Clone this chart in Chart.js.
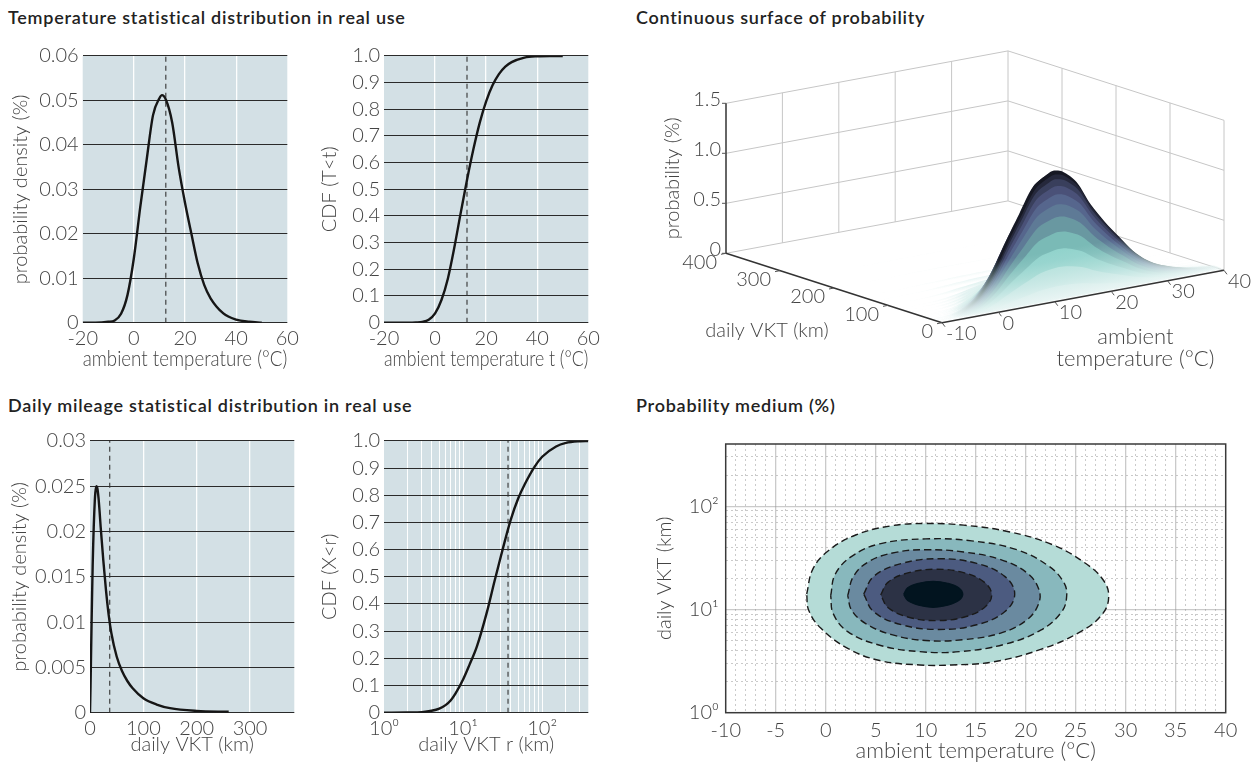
<!DOCTYPE html>
<html>
<head>
<meta charset="utf-8">
<script src="https://cdn.jsdelivr.net/npm/chart.js@4.4.1/dist/chart.umd.min.js"></script>
<style>
  body { margin: 0; width: 1260px; height: 764px; position: relative; overflow: hidden; background: #fff;
         font-family: Lato, "Open Sans", sans-serif; }
  canvas { position: absolute; }
  .ttl { position: absolute; font-size: 18px; font-weight: 600; letter-spacing: 0.75px; color: #222; white-space: nowrap; }
</style>
</head>
<body>
<div class="ttl" style="left:8px;top:6px">Temperature statistical distribution in real use</div>
<div class="ttl" style="left:636px;top:6px">Continuous surface of probability</div>
<div class="ttl" style="left:8px;top:394px">Daily mileage statistical distribution in real use</div>
<div class="ttl" style="left:636px;top:394px">Probability medium (%)</div>

<canvas id="c1" width="305" height="340" style="left:0;top:40px"></canvas>
<canvas id="c2" width="320" height="340" style="left:305px;top:40px"></canvas>
<canvas id="c3" width="305" height="339" style="left:0;top:425px"></canvas>
<canvas id="c4" width="320" height="339" style="left:305px;top:425px"></canvas>
<canvas id="c5" width="630" height="340" style="left:630px;top:40px"></canvas>
<canvas id="c6" width="630" height="339" style="left:630px;top:425px"></canvas>

<script>
// values
const tempX   = [-20, -15, -10, -7.5, -5, -2.5, 0, 2.5, 5, 7.5, 10, 11, 12.5, 15, 17.5, 20, 22.5, 25, 27.5, 30, 35, 40, 45, 50];
const tempPdf = [0, 0, 0.0002, 0.0005, 0.002, 0.0062, 0.0145, 0.026, 0.0366, 0.0467, 0.0505, 0.0512, 0.0502, 0.045, 0.035, 0.027, 0.02, 0.0133, 0.0085, 0.0055, 0.0021, 0.0007, 0.0002, 0];
const tempCdf = [0, 0, 0, 0.001, 0.003, 0.011, 0.035, 0.085, 0.165, 0.28, 0.41, 0.46, 0.535, 0.65, 0.75, 0.83, 0.89, 0.932, 0.96, 0.977, 0.994, 0.999, 1, 1];
const tempMean = 12.5;

const vktX   = [0, 1, 2, 3, 4, 5, 6, 7, 8, 9, 10, 12, 14, 16, 18, 20, 25, 30, 35, 40, 50, 60, 70, 80, 100, 125, 150, 200, 260];
const vktPdf = [0, 0.0029, 0.0065, 0.01, 0.0133, 0.0162, 0.0186, 0.0205, 0.0221, 0.0234, 0.0243, 0.025, 0.0247, 0.0237, 0.0222, 0.0205,
                0.0168, 0.0135, 0.0108, 0.0088, 0.0062, 0.0046, 0.0035, 0.0027, 0.0016, 0.0009, 0.0005, 0.0002, 0.0001];
const vktCdfX = [1, 2, 3, 4, 5, 6, 7, 8, 10, 12, 15, 20, 25, 30, 40, 50, 60, 80, 100, 150, 200, 300, 383];
const vktCdf  = [0, 0.0005, 0.002, 0.007, 0.015, 0.028, 0.046, 0.07, 0.122, 0.175, 0.245, 0.37, 0.485, 0.575, 0.71, 0.79, 0.84, 0.905, 0.942, 0.98, 0.993, 0.999, 1];
const vktMean = 37;

// tick values / labels
const tempTicks    = [-20, 0, 20, 40, 60];
const tempPdfTicks = [0, 0.01, 0.02, 0.03, 0.04, 0.05, 0.06];
const cdfTicks     = [0, 0.1, 0.2, 0.3, 0.4, 0.5, 0.6, 0.7, 0.8, 0.9, 1.0];
const vktTicks     = [0, 100, 200, 300];
const vktPdfTicks  = [0, 0.005, 0.01, 0.015, 0.02, 0.025, 0.03];
const vktLogTicks  = [1, 2, 3, 4, 5, 6, 7, 8, 9, 10, 20, 30, 40, 50, 60, 70, 80, 90, 100, 200, 300];
const contourTLabels = [-10, -5, 0, 5, 10, 15, 20, 25, 30, 35, 40];
const contourVTicks  = [1, 2, 3, 4, 5, 6, 7, 8, 9, 10, 20, 30, 40, 50, 60, 70, 80, 90, 100, 200, 300, 400];
const zTicks3d = [0, 0.5, 1.0, 1.5];
const tTicks3d = [-10, 0, 10, 20, 30, 40];
const vTicks3d = [0, 100, 200, 300, 400];

// contour outlines [temperature, daily VKT], outer to inner
const contour1 = [[-1.9,14.1],[-1.3,24.4],[0.2,36.6],[3.0,52.6],[6.6,64.6],[10.0,67.9],[13.8,65.5],[18.3,56.6],[22.7,42.3],[25.9,28.3],[27.7,19.6],[28.3,13.6],
                  [27.7,9.1],[25.5,6.1],[21.5,4.1],[16.7,3.1],[12.6,2.9],[9.4,2.9],[5.4,3.2],[2.2,4.2],[-0.5,6.6],[-1.7,9.8]];
const contour2 = [[0.5,13.6],[0.95,21.9],[2.6,32.7],[5.4,43.2],[10.0,48.2],[14.6,46.1],[19.1,37.9],[22.3,26.3],[23.8,18.3],[24.1,13.6],
                  [23.6,9.5],[21.5,6.3],[17.9,4.6],[13.4,3.9],[9.4,3.9],[5.4,4.5],[2.2,6.1],[0.75,9.1]];
const contour3 = [[2.2,13.6],[2.8,21.1],[4.4,29.4],[7.0,35.7],[10.0,37.9],[13.8,36.0],[17.5,30.4],[20.1,22.7],[21.3,15.8],
                  [21.3,11.4],[20.1,7.9],[17.5,5.9],[13.8,5.1],[10.0,5.0],[6.6,5.7],[4.0,7.3],[2.6,9.8]];
const contour4 = [[3.8,14.1],[4.8,20.9],[7.6,27.9],[11.35,31.0],[15.1,27.9],[17.9,20.9],[18.9,14.1],[17.9,9.5],[15.1,7.1],[11.35,6.4],[7.6,7.1],[4.8,9.5]];
const contour5 = [[5.5,13.8],[6.25,18.4],[8.3,22.7],[11.05,24.5],[13.8,22.7],[15.85,18.4],[16.6,13.8],[15.85,10.4],[13.8,8.4],[11.05,7.8],[8.3,8.4],[6.25,10.4]];
const contour6 = [[7.8,14.0],[8.2,16.2],[9.3,17.9],[10.75,18.7],[12.2,17.9],[13.3,16.2],[13.7,14.0],[13.3,12.2],[12.2,11.0],[10.75,10.5],[9.3,11.0],[8.2,12.2]];
const contours = [contour1, contour2, contour3, contour4, contour5, contour6];
const contourColors = ['#b5dcd7', '#88b8bd', '#6a8aa0', '#4c5b80', '#2c3245', '#02141f'];

// ------------------------------------------------------------------
const FONT = 'Lato, "Open Sans", "DejaVu Sans", sans-serif';
const TXT = '#444';
Chart.defaults.font.family = FONT;
Chart.defaults.color = TXT;
const tickFont = {size: 20, weight: '300'};
const wideFont = {size: 22, weight: '300'};

const areaFill = {
  id: 'areaFill',
  beforeDraw(chart, args, opts) {
    if (!opts.color) return;
    const {ctx, chartArea: a} = chart;
    ctx.save();
    ctx.fillStyle = opts.color;
    ctx.fillRect(a.left, a.top, a.right - a.left, a.bottom - a.top);
    ctx.restore();
  }
};

const frame = {
  id: 'frame',
  afterDraw(chart) {
    const {ctx, chartArea: a} = chart;
    ctx.save();
    ctx.strokeStyle = '#3a3a3a';
    ctx.lineWidth = 1.5;
    ctx.strokeRect(a.left, a.top, a.right - a.left, a.bottom - a.top);
    ctx.restore();
  }
};

function setTicks(arr) {
  return axis => { axis.ticks = arr.map(v => ({value: v})); };
}

// box: canvas [left, top, w, h] on page, area: wanted chart area [l, t, r, b] on page
function fit(box, area) {
  return {
    padding: {left: 0, top: area[1] - box[1], right: box[0] + box[2] - area[2], bottom: 0},
    yw: area[0] - box[0],
    xh: box[1] + box[3] - area[3]
  };
}

const sup = {0: '⁰', 1: '¹', 2: '²', 3: '³'};
function isDecade(v) { const l = Math.log10(v); return Math.abs(l - Math.round(l)) < 1e-9; }
function decadeLabel(v) { return isDecade(v) ? '10' + sup[Math.round(Math.log10(v))] : ''; }

function smallPanel(id, box, area, o) {
  const f = fit(box, area);
  const yMin = o.yTicks[0], yMax = o.yTicks[o.yTicks.length - 1];
  new Chart(document.getElementById(id), {
    type: 'scatter',
    data: {
      datasets: [
        {data: o.xs.map((x, i) => ({x, y: o.ys[i]})), showLine: true, pointRadius: 0,
         borderColor: '#161616', borderWidth: 2.4, cubicInterpolationMode: 'monotone'},
        {data: [{x: o.mean, y: yMin}, {x: o.mean, y: yMax}], showLine: true, pointRadius: 0,
         borderColor: '#333', borderWidth: 1.1, borderDash: [5, 4]}
      ]
    },
    plugins: [areaFill],
    options: {
      responsive: false, animation: false,
      layout: {padding: f.padding},
      plugins: {legend: {display: false}, tooltip: {enabled: false}, areaFill: {color: '#d3e0e5'}},
      scales: {
        x: {
          type: o.xType || 'linear', min: o.xMin, max: o.xMax,
          afterBuildTicks: setTicks(o.xGrid),
          afterFit: s => { s.height = f.xh; },
          grid: {drawTicks: false, lineWidth: o.xLineW || 1.3,
                 color: c => (c.tick && c.tick.value > o.xMin && c.tick.value < o.xMax) ? 'rgba(255,255,255,0.95)' : 'transparent'},
          border: {display: false},
          ticks: {autoSkip: false, maxRotation: 0, padding: 4, font: tickFont, color: TXT, callback: o.xLabel},
          title: {display: true, text: o.xTitle, font: o.xTitleFont || tickFont, color: TXT, padding: o.xTitlePad}
        },
        y: {
          min: yMin, max: yMax,
          afterBuildTicks: setTicks(o.yTicks),
          afterFit: s => { s.width = f.yw; },
          grid: {drawTicks: false, color: '#2a2a2a', lineWidth: 1.1},
          border: {display: false},
          ticks: {autoSkip: false, padding: 4, font: tickFont, color: TXT, callback: o.yLabel},
          title: {display: true, text: o.yTitle, font: tickFont, color: TXT, padding: o.yTitlePad}
        }
      }
    }
  });
}

smallPanel('c1', [0, 40, 305, 340], [82.7, 51.7, 287.3, 322.7], {
  xs: tempX, ys: tempPdf, mean: tempMean, xMin: -20, xMax: 60, xGrid: tempTicks, yTicks: tempPdfTicks,
  xLabel: v => String(v), yLabel: v => String(v), xTitleFont: wideFont,
  xTitle: 'ambient temperature (°C)', yTitle: 'probability density (%)', xTitlePad: 8, yTitlePad: 9
});
smallPanel('c2', [305, 40, 320, 340], [384, 51.7, 588.3, 322.7], {
  xs: tempX, ys: tempCdf, mean: tempMean, xMin: -20, xMax: 60, xGrid: tempTicks, yTicks: cdfTicks,
  xLabel: v => String(v), yLabel: v => v === 0 ? '0' : v.toFixed(1), xTitleFont: wideFont,
  xTitle: 'ambient temperature t (°C)', yTitle: 'CDF (T<t)', xTitlePad: 8, yTitlePad: 12.5
});
smallPanel('c3', [0, 425, 305, 339], [90, 440.7, 294.3, 712.7], {
  xs: vktX, ys: vktPdf, mean: vktMean, xMin: 0, xMax: 383, xGrid: vktTicks, yTicks: vktPdfTicks,
  xLabel: v => String(v), yLabel: v => String(v),
  xTitle: 'daily VKT (km)', yTitle: 'probability density (%)', xTitlePad: 7, yTitlePad: 7.5
});
smallPanel('c4', [305, 425, 320, 339], [384, 440.7, 588.3, 712.7], {
  xs: vktCdfX, ys: vktCdf, mean: vktMean, xType: 'logarithmic', xMin: 1, xMax: 383, xGrid: vktLogTicks, yTicks: cdfTicks,
  xLineW: 1, xLabel: v => decadeLabel(v), yLabel: v => v === 0 ? '0' : v.toFixed(1),
  xTitle: 'daily VKT r (km)', yTitle: 'CDF (X<r)', xTitlePad: 7, yTitlePad: 12.5
});

// ---------------- contour map ----------------
(function () {
  const box = [630, 425, 630, 339], area = [725.7, 440.7, 1225.7, 712.7];
  const f = fit(box, area);
  const tGrid = [];
  for (let t = -10; t <= 40; t++) tGrid.push(t);
  const gridCol = 'rgba(150,150,150,0.5)';
  new Chart(document.getElementById('c6'), {
    type: 'scatter',
    data: {
      datasets: contours.map((c, i) => ({
        data: c.concat([c[0]]).map(p => ({x: p[0], y: p[1]})),
        showLine: true, fill: 'shape', backgroundColor: contourColors[i],
        borderColor: i < 5 ? '#1a1a1a' : contourColors[i], borderWidth: 1.4, borderDash: i < 5 ? [7, 4] : [],
        pointRadius: 0, tension: 0.4, order: 10 - i
      }))
    },
    plugins: [frame],
    options: {
      responsive: false, animation: false,
      layout: {padding: f.padding},
      plugins: {legend: {display: false}, tooltip: {enabled: false}},
      scales: {
        x: {
          min: -10, max: 40, z: 1,
          afterBuildTicks: setTicks(tGrid),
          afterFit: s => { s.height = f.xh; },
          grid: {drawTicks: false,
                 color: c => (c.tick && c.tick.value > -10 && c.tick.value < 40) ? gridCol : 'transparent',
                 lineWidth: c => (c.tick && c.tick.value % 5 === 0) ? 1.3 : 1},
          border: {display: false, dash: c => (c.tick && c.tick.value % 5 === 0) ? [] : [2, 3]},
          ticks: {autoSkip: false, maxRotation: 0, padding: 6, font: tickFont, color: TXT,
                  callback: v => contourTLabels.includes(v) ? String(v) : ''},
          title: {display: true, text: 'ambient temperature (°C)', font: wideFont, color: TXT, padding: 0}
        },
        y: {
          type: 'logarithmic', min: 1, max: 400, z: 1,
          afterBuildTicks: setTicks(contourVTicks),
          afterFit: s => { s.width = f.yw; },
          grid: {drawTicks: false,
                 color: c => (c.tick && c.tick.value > 1 && c.tick.value < 400) ? gridCol : 'transparent',
                 lineWidth: c => (c.tick && isDecade(c.tick.value)) ? 1.3 : 1},
          border: {display: false, dash: c => (c.tick && isDecade(c.tick.value)) ? [] : [2, 3]},
          ticks: {autoSkip: false, padding: 7, font: tickFont, color: TXT, callback: v => decadeLabel(v)},
          title: {display: true, text: 'daily VKT (km)', font: tickFont, color: TXT, padding: 22.5}
        }
      }
    }
  });
})();

// ---------------- 3D surface ----------------
(function () {
  // oblique projection of (temperature, VKT, probability) into canvas pixels
  const P0 = {x: 312, y: 282.7};
  const ET = {x: 5.64, y: -1.048}, EV = {x: -0.54, y: -0.1735}, EZ = -100;
  const proj = (t, v, z) => ({x: P0.x + (t + 10) * ET.x + v * EV.x, y: P0.y + (t + 10) * ET.y + v * EV.y + z * EZ});
  // unit normal to the temperature direction on screen (points downwards)
  const nLen = Math.hypot(ET.x, ET.y), NX = -ET.y / nLen, NY = ET.x / nLen;

  const stops = [
    [0.00, [235, 246, 245]], [0.15, [218, 239, 237]], [0.33, [188, 228, 223]],
    [0.51, [146, 211, 204]], [0.68, [122, 186, 182]], [0.83, [105, 152, 161]], [0.95, [94, 122, 150]],
    [1.05, [86, 102, 141]], [1.13, [74, 81, 121]], [1.20, [57, 62, 91]], [1.25, [34, 37, 55]], [1.30, [14, 16, 21]]
  ];
  function cmap(z) {
    for (let i = 1; i < stops.length; i++) {
      if (z <= stops[i][0]) {
        const [z0, c0] = stops[i - 1], [z1, c1] = stops[i];
        const k = Math.max(0, (z - z0) / (z1 - z0));
        return c0.map((v, j) => v + (c1[j] - v) * k);
      }
    }
    return stops[stops.length - 1][1];
  }
  const rgba = (c, a) => `rgba(${c[0].toFixed(0)},${c[1].toFixed(0)},${c[2].toFixed(0)},${a.toFixed(2)})`;
  const mix = (c0, c1, k) => c0.map((v, i) => v + (c1[i] - v) * k);
  // low on a slice the colour follows the height colour map, then turns into the slice colour
  const fadeHeights = [0, 0.01, 0.025, 0.05, 0.1, 0.18, 0.28, 0.4, 0.5];
  const shade = h => Math.min(1, Math.pow(h / 0.5, 1.2));
  const alpha = h => Math.min(1, 0.04 + h / 0.05);

  const seg = (pts, color, width, order) => ({
    data: pts, showLine: true, pointRadius: 0, borderColor: color, borderWidth: width, fill: false, order
  });
  const sets = [];
  const wall = '#c6c6c6';
  zTicks3d.forEach(z => {
    sets.push(seg([proj(-10, 400, z), proj(40, 400, z)], wall, 1, 1000));
    sets.push(seg([proj(40, 400, z), proj(40, 0, z)], wall, 1, 1000));
  });
  tTicks3d.slice(1).forEach(t => sets.push(seg([proj(t, 400, 0), proj(t, 400, 1.5)], wall, 1, 1000)));
  vTicks3d.slice(0, -1).forEach(v => sets.push(seg([proj(40, v, 0), proj(40, v, 1.5)], wall, 1, 1000)));

  // surface: one filled slice per read VKT value, back to front;
  // height = product of the two read marginal densities (x1000 -> %)
  const sT = [], sP = [];
  tempX.forEach((t, i) => { if (t >= -10 && t <= 40) { sT.push(t); sP.push(tempPdf[i]); } });
  const pMax = Math.max(...sP), tPeak = sT[sP.indexOf(pMax)];
  vktX.forEach((v, j) => {
    if (vktPdf[j] <= 0) return;
    const top = sT.map((t, i) => proj(t, v, sP[i] * vktPdf[j] * 1000));
    const base = sT.slice().reverse().map(t => proj(t, v, 0));
    const peak = pMax * vktPdf[j] * 1000;
    const col = cmap(peak);
    const A = proj(tPeak, v, peak);
    const d = -peak * EZ * NY;                  // distance from top to baseline along the normal
    const B = {x: A.x + NX * d, y: A.y + NY * d};
    sets.push({
      data: top.concat(base, [top[0]]), showLine: true, fill: 'shape', borderWidth: 0, pointRadius: 0, tension: 0.3, order: 100 + j,
      backgroundColor: ctx => {
        const ch = ctx.chart, X = ch.scales && ch.scales.x, Y = ch.scales && ch.scales.y;
        if (!X || !Y) return rgba(col, 1);
        const bx = X.getPixelForValue(B.x), by = Y.getPixelForValue(B.y);
        const ax = X.getPixelForValue(A.x), ay = Y.getPixelForValue(A.y);
        if (![ax, ay, bx, by].every(isFinite) || d < 0.5) return rgba(col, alpha(peak));
        const g = ch.ctx.createLinearGradient(bx, by, ax, ay);
        fadeHeights.filter(h => h < peak).forEach(h => {
          g.addColorStop(h / peak, rgba(mix(cmap(h), col, shade(h)), alpha(h)));
        });
        g.addColorStop(1, rgba(mix(cmap(peak), col, shade(peak)), alpha(peak)));
        return g;
      }
    });
  });

  const axisCol = '#333';
  sets.push(seg([proj(-10, 400, 0), proj(-10, 400, 1.5)], axisCol, 1.5, 0));
  sets.push(seg([proj(-10, 400, 0), proj(-10, 0, 0)], axisCol, 1.5, 0));
  sets.push(seg([proj(-10, 0, 0), proj(40, 0, 0)], axisCol, 1.5, 0));

  const labels3d = {
    id: 'labels3d',
    afterDatasetsDraw(chart) {
      const {ctx} = chart;
      const X = chart.scales.x, Y = chart.scales.y;
      const px = p => ({x: X.getPixelForValue(p.x), y: Y.getPixelForValue(p.y)});
      const tick = (p, dx, dy) => { ctx.beginPath(); ctx.moveTo(p.x, p.y); ctx.lineTo(p.x + dx, p.y + dy); ctx.stroke(); };
      ctx.save();
      ctx.font = `300 20px ${FONT}`;
      ctx.fillStyle = TXT;
      ctx.strokeStyle = '#555';
      ctx.lineWidth = 1;
      ctx.textBaseline = 'middle';
      ctx.textAlign = 'right';
      zTicks3d.forEach(z => {
        const p = px(proj(-10, 400, z));
        tick(p, -4, 0);
        ctx.fillText(z === 0 ? '0' : z.toFixed(1), p.x - 5, p.y - 4);
      });
      vTicks3d.forEach(v => {
        const p = px(proj(-10, v, 0));
        tick(p, -5, 1);
        ctx.fillText(String(v), p.x - 9, p.y + 9);
      });
      ctx.textAlign = 'left';
      tTicks3d.forEach(t => {
        const p = px(proj(t, 0, 0));
        tick(p, 3, 4);
        ctx.fillText(String(t), p.x + 4, p.y + 11);
      });
      ctx.textAlign = 'center';
      const a = px(proj(-10, 250, 0));
      ctx.fillText('daily VKT (km)', a.x - 40, a.y + 51);
      ctx.font = `300 22px ${FONT}`;
      const b = px(proj(25, 0, 0));
      ctx.fillText('ambient', b.x - 4, b.y + 51);
      ctx.fillText('temperature (°C)', b.x - 4, b.y + 73);
      ctx.font = `300 20px ${FONT}`;
      const c = px(proj(-10, 400, 0.75));
      ctx.translate(c.x - 53, c.y);
      ctx.rotate(-Math.PI / 2);
      ctx.fillText('probability (%)', 0, 0);
      ctx.restore();
    }
  };

  new Chart(document.getElementById('c5'), {
    type: 'scatter',
    data: {datasets: sets},
    plugins: [labels3d],
    options: {
      responsive: false, animation: false,
      layout: {padding: 0},
      plugins: {legend: {display: false}, tooltip: {enabled: false}},
      scales: {
        x: {type: 'linear', min: 0, max: 630, display: false},
        y: {type: 'linear', min: 0, max: 340, reverse: true, display: false}
      }
    }
  });
})();
</script>
</body>
</html>
